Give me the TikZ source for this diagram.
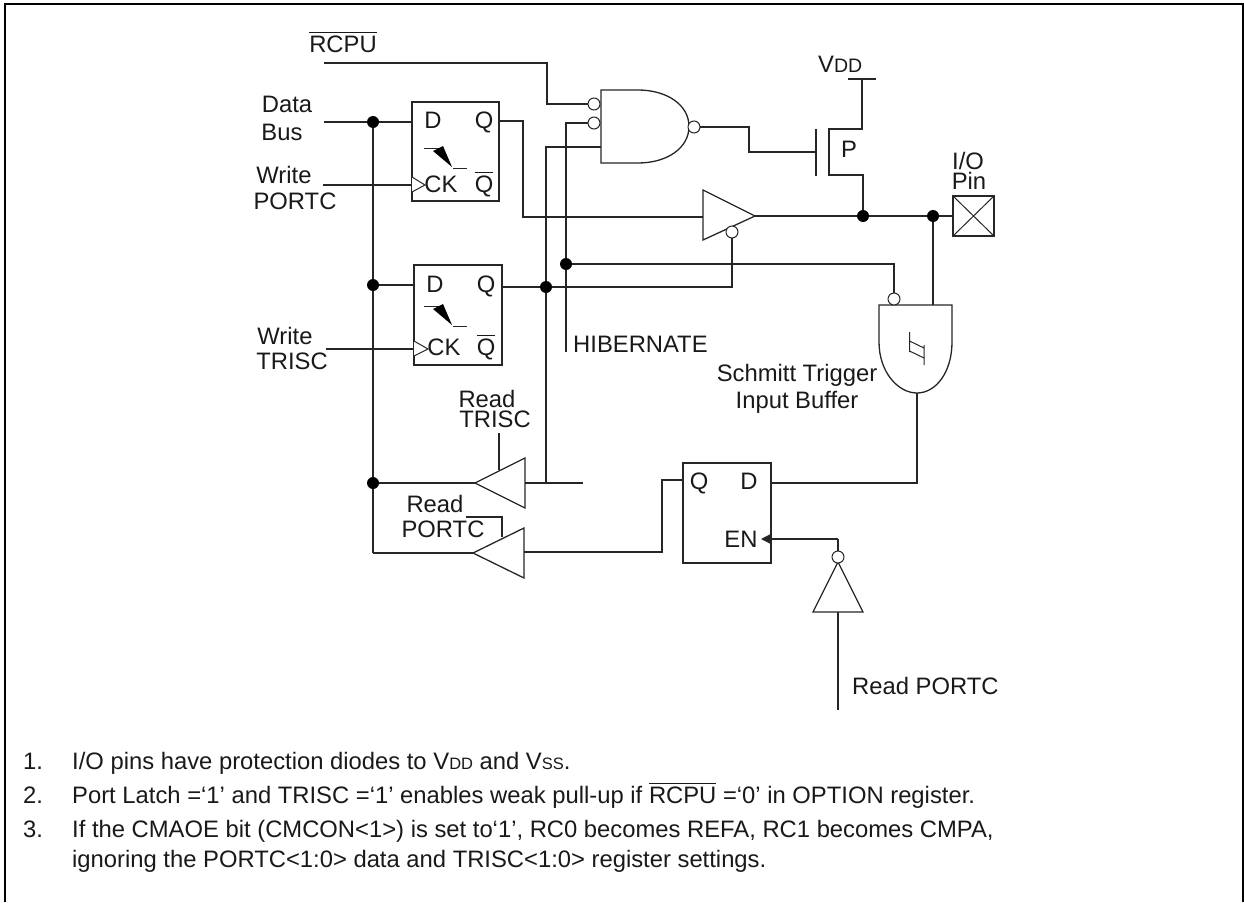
\documentclass[tikz,border=0pt]{standalone}
\usepackage{fontspec}
\setmainfont{Liberation Sans}
\usetikzlibrary{arrows.meta}
\newcommand{\smalltxt}[1]{{\fontsize{16.5}{17}\selectfont #1}}
\newcommand{\midtxt}[1]{{\fontsize{19.5}{20}\selectfont #1}}
\newcommand{\barred}[1]{\setbox0\hbox{#1}\leavevmode\rlap{\raisebox{19pt}{\rule{\wd0}{1.2pt}}}\box0\relax}
\tikzset{
  wire/.style={line width=1.3pt,line join=miter,line cap=butt,draw=black!85},
  gate/.style={line width=1.3pt,line join=miter,draw=black!85},
  thin line/.style={line width=1pt,draw=black!85},
  dotnode/.style={circle,fill=black,draw=none,minimum size=12pt,inner sep=0pt},
  bubble/.style={circle,fill=white,draw=black!85,line width=1pt,minimum size=12pt,inner sep=0pt},
  regbox/.style={rectangle,draw=black!85,line width=1.3pt,inner sep=0pt,fill=none},
  lbl/.style={inner sep=0pt,anchor=base,font=\fontsize{23.8}{25}\selectfont,text=black!90},
  note/.style={inner sep=0pt,anchor=base west,font=\fontsize{23.8}{25}\selectfont,text=black!90},
}
\begin{document}
\begin{tikzpicture}[x=1pt,y=-1pt]
\useasboundingbox (0,0) rectangle (1244,902);
% frame (open at the bottom)
\coordinate (fbl) at (5,902); \coordinate (ftl) at (5,4);
\coordinate (ftr) at (1242.5,4); \coordinate (fbr) at (1242.5,902);
\draw[line width=2pt,draw=black] (fbl) -- (ftl) -- (ftr) -- (fbr);

% pin and wire points
\foreach \n/\x/\y in {
  rcpuS/324/63, rcpuA/547/63, rcpuB/547/104,
  dataS/324/122, ff1D/412/122, writeAS/323/185, ff1C/412/185,
  ff1Q/499/121, q1A/523/121, q1B/523/217, triIn/703/217, triOut/755/216,
  busEnd/373/553,
  ff2D/414/285, writeBS/326/349, ff2C/414/349, ff2Q/502/287,
  tenA/732/287, hibTop/566/123, hibBot/566/352, hibR/894/264,
  fbTop/546/147, nandC/601/147, fbBot/546/483,
  rtBaseOut/583/483, rtBase/525/483, rtTip/475/483, rtEnTop/499/433, rtEnBot/499/470,
  rpTip/473/553, rpBase/524/552, rpA/662/552, rpB/662/480, latQ/683/480,
  rpEnA/466/517, rpEnB/502/517, rpEnC/502/537,
  nandOutA/749/127, nandOutB/749/152, pGate/816/152,
  pTop/829/129, pD/862/129, pV/862/79, vddL/848/79, vddR/876/79,
  pBot/829/175, pS/863/175,
  barT/816/129, barB/816/176,
  stOut/917/393, stB/917/483, latD/771/483,
  stIn/933/305,
  enIn/761/539, enA/838/539, invTop/838/553, invIn/838/612, invS/838/710}
  {\coordinate (\n) at (\x,\y);}

% junctions and inversion bubbles
\node[dotnode] (jData) at (373,122) {};
\node[dotnode] (jBus2) at (373,285) {};
\node[dotnode] (jBus3) at (373,483) {};
\node[dotnode] (jFb) at (546,287) {};
\node[dotnode] (jHib) at (566,264) {};
\node[dotnode] (jOut) at (863,216) {};
\node[dotnode] (jIn) at (933,216) {};

% boxes
\node[regbox,minimum width=87pt,minimum height=99pt] (ff1) at (455.5,151.5) {};
\node[regbox,minimum width=88pt,minimum height=100pt] (ff2) at (458,315) {};
\node[regbox,minimum width=88pt,minimum height=100pt] (latch) at (727,513) {};
\node[regbox,minimum width=41pt,minimum height=40pt] (pin) at (973.5,216) {};

% wires
\draw[wire] (rcpuS) -- (rcpuA) -- (rcpuB) -- (590,104);
\draw[wire] (dataS) -- (jData) -- (ff1D);
\draw[wire] (jData) -- (jBus2) -- (jBus3) -- (busEnd);
\draw[wire] (writeAS) -- (ff1C);
\draw[wire] (writeBS) -- (ff2C);
\draw[wire] (jBus2) -- (ff2D);
\draw[wire] (ff1Q) -- (q1A) -- (q1B) -- (triIn);
\draw[wire] (ff2Q) -- (jFb) -- (tenA) -- (732,238);
\draw[wire] (nandC) -- (fbTop) -- (jFb) -- (fbBot);
\draw[wire] (hibBot) -- (jHib) -- (hibTop) -- (590,123);
\draw[wire] (jHib) -- (hibR) -- (894,295);
\draw[wire] (triOut) -- (jOut) -- (jIn) -- (pin.west);
\draw[wire] (jIn) -- (stIn);
\draw[wire] (rtBaseOut) -- (rtBase);
\draw[wire] (rtTip) -- (jBus3);
\draw[wire] (rtEnTop) -- (rtEnBot);
\draw[wire] (busEnd) -- (rpTip);
\draw[wire] (rpBase) -- (rpA) -- (rpB) -- (latQ);
\draw[wire] (rpEnA) -- (rpEnB) -- (rpEnC);
\draw[wire] (699,127) -- (nandOutA) -- (nandOutB) -- (pGate);
\draw[wire] (barT) -- (barB);
\draw[wire] (vddL) -- (vddR);
\draw[wire] (pV) -- (pD) -- (pTop) -- (pBot) -- (pS) -- (jOut);
\draw[wire] (stOut) -- (stB) -- (latD);
\draw[wire,-{Triangle[length=10pt,width=10pt]}] (enA) -- (enIn);
\draw[wire] (enA) -- (invTop);
\draw[wire] (invIn) -- (invS);

% gates
\draw[gate] (601,90) -- (638,90) .. controls (667,90) and (689,105) .. (689,126.5)
  .. controls (689,148) and (667,163) .. (638,163) -- (601,163) -- cycle;
\draw[gate] (703,190) -- (755,216) -- (703,240) -- cycle;
\draw[gate] (525,458) -- (475,483) -- (525,508) -- cycle;
\draw[gate] (524,528) -- (473,553) -- (524,578) -- cycle;
\draw[gate] (838,562) -- (813,612) -- (863,612) -- cycle;
\draw[gate] (879,305) -- (952,305) -- (952,342) .. controls (952,372) and (936,393) .. (917,393)
  .. controls (898,393) and (879,372) .. (879,342) -- cycle;

% Schmitt symbol
\draw[thin line] (909.5,332) -- (909.5,352) (924,345) -- (924,365)
  (909.5,341) -- (924,348) (909.5,351) -- (924,358);

% bubbles
\node[bubble] (bA) at (594,104) {};
\node[bubble] (bB) at (594,123) {};
\node[bubble] (bNand) at (694,127) {};
\node[bubble] (bTri) at (732,232) {};
\node[bubble] (bSt) at (894,299) {};
\node[bubble] (bInv) at (838,557) {};

% pin cross
\draw[thin line] (pin.south west) -- (pin.north east) (pin.north west) -- (pin.south east);

% clock marks and edge symbols
\draw[thin line,fill=white] (412,177) -- (425,185) -- (412,192);
\draw[thin line,fill=white] (414,341) -- (428,349) -- (414,356);
\draw[thin line] (424,148) -- (443,148) (453,168) -- (467,168);
\fill[black] (433,151) -- (443,146) -- (452,167) -- cycle;
\draw[thin line] (424,306) -- (443,306) (453,326) -- (467,326);
\fill[black] (433,309) -- (443,304) -- (452,325) -- cycle;

% labels
\node[lbl] (tRcpu) at (343,52) {\barred{RCPU}};
\node[lbl] (tData) at (287,112) {Data};
\node[lbl] (tBus) at (282,140) {Bus};
\node[lbl] (tWriteA) at (284,183) {Write};
\node[lbl] (tPortcA) at (295,209) {PORTC};
\node[lbl] (tD1) at (433,128) {D};
\node[lbl] (tQ1) at (484,128) {Q};
\node[lbl] (tCK1) at (441,192) {CK};
\node[lbl] (tQb1) at (484,192) {\barred{Q}};
\node[lbl] (tD2) at (435,292) {D};
\node[lbl] (tQ2) at (486,292) {Q};
\node[lbl] (tCK2) at (444,355) {CK};
\node[lbl] (tQb2) at (486,355) {\barred{Q}};
\node[lbl] (tWriteB) at (285,344) {Write};
\node[lbl] (tTrisA) at (292,369) {TRISC};
\node[lbl] (tReadT) at (487,407) {Read};
\node[lbl] (tTrisB) at (495,427) {TRISC};
\node[lbl] (tReadP) at (435,512) {Read};
\node[lbl] (tPortcB) at (443,537) {PORTC};
\node[lbl,anchor=base west] (tHib) at (573,352) {HIBERNATE};
\node[lbl] (tSt1) at (797,381) {Schmitt Trigger};
\node[lbl] (tSt2) at (797,408) {Input Buffer};
\node[lbl] (tQ3) at (699,489) {Q};
\node[lbl] (tD3) at (749,489) {D};
\node[lbl] (tEN) at (741,547) {EN};
\node[lbl,anchor=base west] (tReadS) at (852,694) {Read PORTC};
\node[lbl,anchor=base west] (tVdd) at (818,72) {V\midtxt{DD}};
\node[lbl] (tP) at (849,157) {P};
\node[lbl] (tIO) at (968,169) {I/O};
\node[lbl] (tPin) at (969,189) {Pin};

% notes
\node[note] (n1) at (23,769) {1.};
\node[note] (t1) at (72,769) {I/O pins have protection diodes to V\smalltxt{DD} and V\smalltxt{SS}.};
\node[note] (n2) at (23,803) {2.};
\node[note] (t2) at (72,803) {Port Latch =‘1’ and TRISC =‘1’ enables weak pull-up if \barred{RCPU} =‘0’ in OPTION register.};
\node[note] (n3) at (23,837) {3.};
\node[note] (t3) at (72,837) {If the CMAOE bit (CMCON<1>) is set to‘1’, RC0 becomes REFA, RC1 becomes CMPA,};
\node[note] (t4) at (72,867) {ignoring the PORTC<1:0> data and TRISC<1:0> register settings.};
\end{tikzpicture}
\end{document}
